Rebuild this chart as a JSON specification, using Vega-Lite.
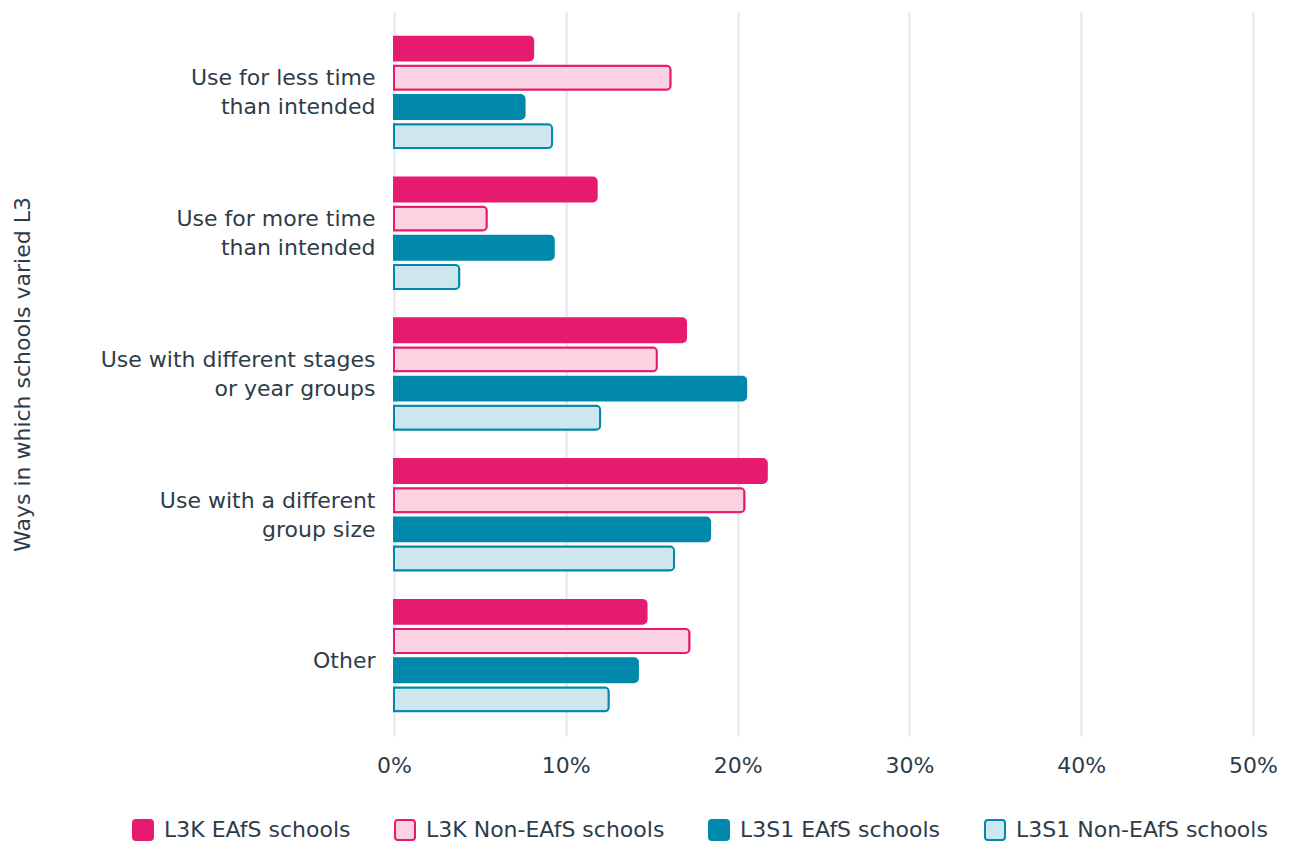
{
  "$schema": "https://vega.github.io/schema/vega-lite/v6.json",
  "autosize": "none",
  "width": 859,
  "height": 724,
  "padding": {"left": 394, "top": 12, "right": 47, "bottom": 106},
  "background": "#ffffff",
  "config": {
    "view": {"stroke": null},
    "font": "DejaVu Sans",
    "axis": {"labelColor": "#2E3C49", "titleColor": "#2E3C49", "labelFont": "DejaVu Sans", "titleFont": "DejaVu Sans"},
    "legend": {"labelColor": "#2E3C49", "labelFont": "DejaVu Sans"}
  },
  "data": {
    "values": [
      {"category": "Use for less time than intended", "series": "L3K EAfS schools", "value": 8.1},
      {"category": "Use for less time than intended", "series": "L3K Non-EAfS schools", "value": 16.1},
      {"category": "Use for less time than intended", "series": "L3S1 EAfS schools", "value": 7.6},
      {"category": "Use for less time than intended", "series": "L3S1 Non-EAfS schools", "value": 9.2},
      {"category": "Use for more time than intended", "series": "L3K EAfS schools", "value": 11.8},
      {"category": "Use for more time than intended", "series": "L3K Non-EAfS schools", "value": 5.4},
      {"category": "Use for more time than intended", "series": "L3S1 EAfS schools", "value": 9.3},
      {"category": "Use for more time than intended", "series": "L3S1 Non-EAfS schools", "value": 3.8},
      {"category": "Use with different stages or year groups", "series": "L3K EAfS schools", "value": 17.0},
      {"category": "Use with different stages or year groups", "series": "L3K Non-EAfS schools", "value": 15.3},
      {"category": "Use with different stages or year groups", "series": "L3S1 EAfS schools", "value": 20.5},
      {"category": "Use with different stages or year groups", "series": "L3S1 Non-EAfS schools", "value": 12.0},
      {"category": "Use with a different group size", "series": "L3K EAfS schools", "value": 21.7},
      {"category": "Use with a different group size", "series": "L3K Non-EAfS schools", "value": 20.4},
      {"category": "Use with a different group size", "series": "L3S1 EAfS schools", "value": 18.4},
      {"category": "Use with a different group size", "series": "L3S1 Non-EAfS schools", "value": 16.3},
      {"category": "Other", "series": "L3K EAfS schools", "value": 14.7},
      {"category": "Other", "series": "L3K Non-EAfS schools", "value": 17.2},
      {"category": "Other", "series": "L3S1 EAfS schools", "value": 14.2},
      {"category": "Other", "series": "L3S1 Non-EAfS schools", "value": 12.5}
    ]
  },
  "mark": {"type": "bar", "cornerRadiusEnd": 4, "strokeWidth": 2},
  "encoding": {
    "y": {
      "field": "category",
      "type": "nominal",
      "sort": ["Use for less time than intended", "Use for more time than intended", "Use with different stages or year groups", "Use with a different group size", "Other"],
      "scale": {"paddingInner": 0.2085, "paddingOuter": 0.175},
      "axis": {
        "title": "Ways in which schools varied L3",
        "titleFontSize": 22,
        "titleFontWeight": "normal",
        "titleX": -360,
        "labelFontSize": 22,
        "labelLineHeight": 29,
        "labelPadding": 19,
        "labelLimit": 400,
        "labelOffset": {"condition": {"test": "datum.value == 'Other'", "value": 5}, "value": -14},
        "ticks": false,
        "domain": false,
        "labelExpr": "datum.value == 'Use for less time than intended' ? ['Use for less time', 'than intended'] : datum.value == 'Use for more time than intended' ? ['Use for more time', 'than intended'] : datum.value == 'Use with different stages or year groups' ? ['Use with different stages', 'or year groups'] : datum.value == 'Use with a different group size' ? ['Use with a different', 'group size'] : datum.value"
      }
    },
    "yOffset": {
      "field": "series",
      "type": "nominal",
      "sort": ["L3K EAfS schools", "L3K Non-EAfS schools", "L3S1 EAfS schools", "L3S1 Non-EAfS schools"],
      "scale": {"paddingInner": 0.18, "paddingOuter": 0}
    },
    "x": {
      "field": "value",
      "type": "quantitative",
      "scale": {"domain": [0, 50]},
      "axis": {
        "title": null,
        "values": [0, 10, 20, 30, 40, 50],
        "labelExpr": "datum.value + '%'",
        "labelFontSize": 22,
        "labelPadding": 19,
        "labelFlush": false,
        "ticks": false,
        "domain": false,
        "grid": true,
        "gridColor": "#E7EAF0",
        "gridWidth": 2.5
      }
    },
    "fill": {
      "field": "series",
      "type": "nominal",
      "scale": {
        "domain": ["L3K EAfS schools", "L3K Non-EAfS schools", "L3S1 EAfS schools", "L3S1 Non-EAfS schools"],
        "range": ["#E61B6F", "#FAD2E2", "#0089AA", "#CEE6EE"]
      },
      "legend": {
        "title": null,
        "orient": "none",
        "direction": "horizontal",
        "legendX": -262,
        "legendY": 807,
        "labelFontSize": 22,
        "symbolType": "M -0.7 -1 L 0.7 -1 Q 1 -1 1 -0.7 L 1 0.7 Q 1 1 0.7 1 L -0.7 1 Q -1 1 -1 0.7 L -1 -0.7 Q -1 -1 -0.7 -1 Z",
        "symbolSize": 400,
        "symbolStrokeWidth": 2,
        "labelOffset": 10,
        "columnPadding": 40,
        "labelLimit": 400
      }
    },
    "stroke": {
      "field": "series",
      "type": "nominal",
      "scale": {
        "domain": ["L3K EAfS schools", "L3K Non-EAfS schools", "L3S1 EAfS schools", "L3S1 Non-EAfS schools"],
        "range": ["#E61B6F", "#E61B6F", "#0089AA", "#0089AA"]
      },
      "legend": {
        "title": null,
        "orient": "none",
        "direction": "horizontal",
        "legendX": -262,
        "legendY": 807,
        "labelFontSize": 22,
        "symbolType": "M -0.7 -1 L 0.7 -1 Q 1 -1 1 -0.7 L 1 0.7 Q 1 1 0.7 1 L -0.7 1 Q -1 1 -1 0.7 L -1 -0.7 Q -1 -1 -0.7 -1 Z",
        "symbolSize": 400,
        "symbolStrokeWidth": 2,
        "labelOffset": 10,
        "columnPadding": 40,
        "labelLimit": 400
      }
    }
  }
}
